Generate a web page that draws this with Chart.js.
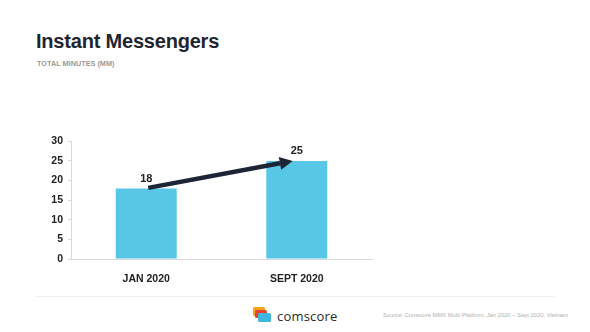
<!DOCTYPE html>
<html>
<head>
<meta charset="utf-8">
<script src="https://cdn.jsdelivr.net/npm/chart.js@4.4.1/dist/chart.umd.min.js"></script>
<style>
  html, body { margin: 0; padding: 0; background: #fff; }
  body { width: 590px; height: 332px; position: relative; overflow: hidden; font-family: "Liberation Sans", Arial, sans-serif; }
  #title { position: absolute; left: 36px; top: 30px; font-size: 20px; font-weight: bold; color: #1f2530; letter-spacing: -0.2px; }
  #subtitle { position: absolute; left: 37px; top: 59px; font-size: 7.3px; font-weight: bold; color: #9a9a9a; }
  #chartBox { position: absolute; left: 40px; top: 130px; width: 333px; height: 160px; }
  #rule { position: absolute; left: 35px; top: 296px; width: 520px; height: 1px; background: #f0f0f0; }
  #logo { position: absolute; left: 253px; top: 307px; width: 18px; height: 15px; }
  #brand { position: absolute; left: 277px; top: 307px; font-family: "Open Sans", sans-serif; font-size: 13px; color: #2a2a2a; letter-spacing: 0.2px; }
  #source { position: absolute; left: 383px; top: 312px; font-size: 5.8px; color: #b0b0b0; }
</style>
</head>
<body>
<div id="title">Instant Messengers</div>
<div id="subtitle">TOTAL MINUTES (MM)</div>
<div id="chartBox"><canvas id="imChart"></canvas></div>
<div id="rule"></div>
<svg id="logo" viewBox="0 0 18 15">
  <rect x="0" y="0" width="12" height="9" rx="1.5" fill="#f4a21c"/>
  <rect x="2" y="3" width="12" height="8" rx="1.5" fill="#e8432e"/>
  <rect x="5" y="6" width="13" height="9" rx="1.5" fill="#3fb7e0"/>
</svg>
<div id="brand">comscore</div>
<div id="source">Source: Comscore MMX Multi-Platform, Jan 2020 – Sept 2020, Vietnam</div>

<script>
// Total minutes (MM) per period
const periods = ["JAN 2020", "SEPT 2020"];
const minutes = [18, 25];
const yTicks = [0, 5, 10, 15, 20, 25, 30];

const barColor = '#58c6e6';
const inkColor = '#1c2536';

// value labels above the bars + growth arrow between the bar tops
const barExtras = {
  id: 'barExtras',
  afterDatasetsDraw(chart) {
    const ctx = chart.ctx;
    const meta = chart.getDatasetMeta(0);
    const yScale = chart.scales.y;

    ctx.save();
    ctx.font = 'bold 11px "Liberation Sans", Arial, sans-serif';
    ctx.fillStyle = '#222';
    ctx.textAlign = 'center';
    ctx.textBaseline = 'bottom';
    meta.data.forEach((bar, i) => {
      ctx.fillText(String(minutes[i]), bar.x, yScale.getPixelForValue(minutes[i]) - 4);
    });

    // arrow from first bar top to second bar top
    const x1 = meta.data[0].x + 2;
    const y1 = yScale.getPixelForValue(minutes[0]) - 0.5;
    const x2 = meta.data[1].x - 4;
    const y2 = yScale.getPixelForValue(minutes[1]);
    const ang = Math.atan2(y2 - y1, x2 - x1);
    const head = 13;
    const bx = x2 - head * Math.cos(ang);
    const by = y2 - head * Math.sin(ang);

    ctx.strokeStyle = inkColor;
    ctx.fillStyle = inkColor;
    ctx.lineWidth = 4.5;
    ctx.lineCap = 'butt';
    ctx.beginPath();
    ctx.moveTo(x1, y1);
    ctx.lineTo(bx, by);
    ctx.stroke();

    ctx.beginPath();
    ctx.moveTo(x2, y2);
    ctx.lineTo(bx + 6.5 * Math.sin(ang), by - 6.5 * Math.cos(ang));
    ctx.lineTo(bx - 6.5 * Math.sin(ang), by + 6.5 * Math.cos(ang));
    ctx.closePath();
    ctx.fill();
    ctx.restore();
  }
};

new Chart(document.getElementById('imChart'), {
  type: 'bar',
  data: {
    labels: periods,
    datasets: [{
      data: minutes,
      backgroundColor: barColor,
      barPercentage: 0.81,
      categoryPercentage: 0.5
    }]
  },
  options: {
    responsive: true,
    maintainAspectRatio: false,
    animation: false,
    layout: { padding: { top: 10, right: 1, left: 0, bottom: 0 } },
    plugins: {
      legend: { display: false },
      tooltip: { enabled: false }
    },
    scales: {
      x: {
        grid: { display: false },
        border: { display: true, color: '#d9d9d9', width: 1 },
        ticks: {
          color: '#222',
          padding: 6,
          font: { family: '"Liberation Sans", Arial, sans-serif', size: 10.5, weight: 'bold' }
        },
        afterFit: s => { s.height = 31; }
      },
      y: {
        min: 0,
        max: 30,
        afterBuildTicks: s => { s.ticks = yTicks.map(v => ({ value: v })); },
        grid: { drawOnChartArea: false, tickLength: 3, color: '#d9d9d9' },
        border: { display: true, color: '#d9d9d9', width: 1 },
        ticks: {
          color: '#222',
          padding: 5,
          font: { family: '"Liberation Sans", Arial, sans-serif', size: 10.5, weight: 'bold' }
        },
        afterFit: s => { s.width = 31; }
      }
    }
  },
  plugins: [barExtras]
});
</script>
</body>
</html>
